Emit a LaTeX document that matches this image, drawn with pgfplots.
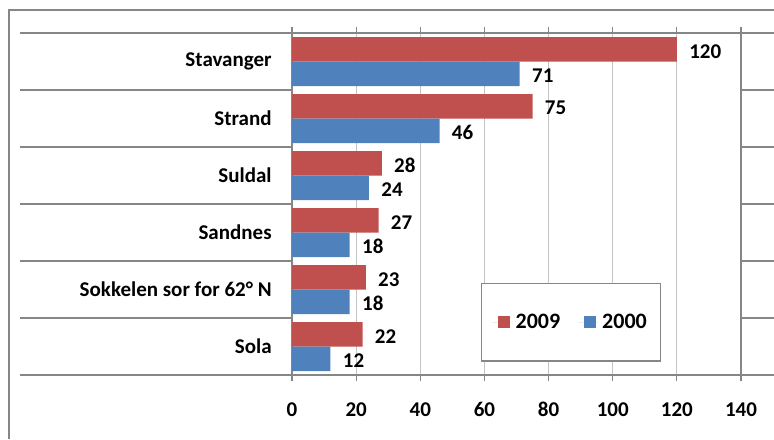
\documentclass[border=0pt]{standalone}
\usepackage{pgfplots}
\pgfplotsset{compat=1.18}
\usepackage{fontspec}
\setmainfont{Carlito}
\definecolor{c2009}{HTML}{C0504D}
\definecolor{c2000}{HTML}{4F81BD}
\definecolor{axgray}{HTML}{868686}
\definecolor{gridgray}{HTML}{C4C4C4}
\newcommand{\lab}{\fontsize{10.5}{12.6}\selectfont\bfseries}

\begin{document}
\begin{tikzpicture}
\useasboundingbox (0,0) rectangle (387pt,219.5pt);
\draw[axgray, line width=0.6pt] (4.5pt,0) -- (4.5pt,214.5pt) -- (387pt,214.5pt);
\begin{axis}[
    at={(146pt,32pt)}, anchor=south west,
    scale only axis, width=224.5pt, height=171pt,
    xmin=0, xmax=140, ymin=-0.5, ymax=5.5,
    xbar, bar width=12.25pt,
    /pgf/number format/assume math mode=true,
    xtick={0,20,...,140},
    ytick={0,...,5},
    yticklabels={Sola, Sokkelen sor for 62° N, Sandnes, Suldal, Strand, Stavanger},
    tick align=outside, major tick length=3pt,
    ytick style={draw=none},
    extra y ticks={-0.5,0.5,1.5,2.5,3.5,4.5,5.5},
    extra y tick labels={},
    extra y tick style={ytick style={draw=axgray, line width=0.6pt}, major tick length=136pt, grid=none},
    xtick style={axgray, line width=0.6pt},
    axis line style={axgray, line width=0.6pt},
    xmajorgrids, grid style={gridgray, line width=0.6pt},
    tick label style={font=\lab, text=black},
    yticklabel style={inner sep=0pt, xshift=-7pt},
    xticklabel style={inner sep=0pt, yshift=-10.5pt},
    nodes near coords,
    nodes near coords style={font=\lab, text=black, anchor=west, inner sep=0pt, xshift=6pt, yshift=-1pt},
    legend columns=2,
    legend style={at={(0.421,0.269)}, anchor=north west, draw=axgray, line width=0.6pt,
      font=\fontsize{11}{13}\selectfont\bfseries, inner xsep=5pt, inner ysep=13pt,
      /tikz/every even column/.append style={column sep=7pt}},
  ]
  \addplot[fill=c2009, draw=none, bar shift=6.125pt,
    legend image code/.code={\path (0pt,0pt) -- (10pt,0pt); \fill[c2009] (3pt,-3pt) rectangle (9pt,3pt);}]
    coordinates {(120,5) (75,4) (28,3) (27,2) (23,1) (22,0)};
  \addlegendentry{2009}
  \addplot[fill=c2000, draw=none, bar shift=-6.125pt,
    legend image code/.code={\path (0pt,0pt) -- (10pt,0pt); \fill[c2000] (3pt,-3pt) rectangle (9pt,3pt);}]
    coordinates {(71,5) (46,4) (24,3) (18,2) (18,1) (12,0)};
  \addlegendentry{2000}
\end{axis}
\end{tikzpicture}
\end{document}
